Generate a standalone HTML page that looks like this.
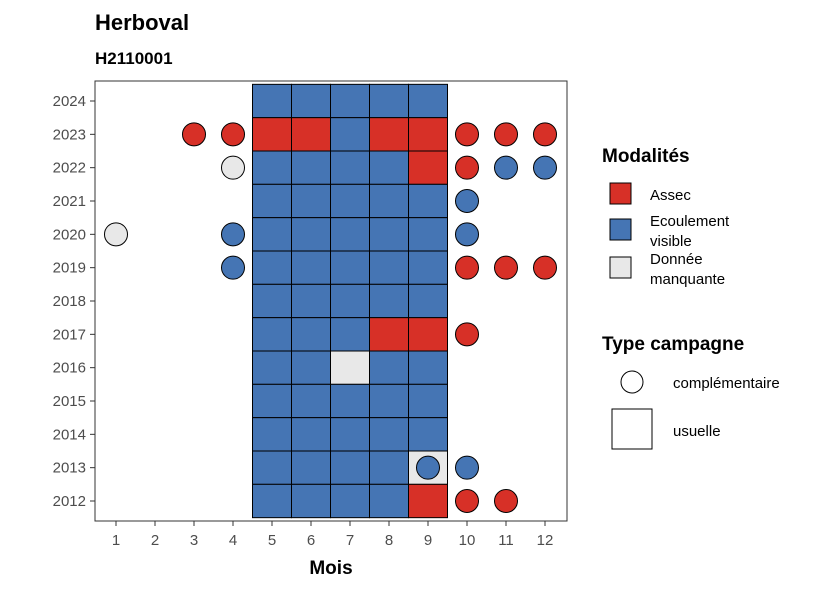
<!DOCTYPE html>
<html><head><meta charset="utf-8"><style>
body{margin:0;background:#fff;width:826px;height:590px;overflow:hidden}
text{font-family:"Liberation Sans",sans-serif}
</style></head><body>
<svg id="chart" width="826" height="590" xmlns="http://www.w3.org/2000/svg">
<text x="95" y="30" font-size="22" font-weight="bold" fill="#000">Herboval</text>
<text x="95" y="64" font-size="17" font-weight="bold" fill="#000">H2110001</text>
<rect x="95" y="81" width="472" height="440" fill="#fff" stroke="#333" stroke-width="1"/>
<g id="tiles"></g><g id="circles"></g><g id="axes"></g>
<text x="331" y="574" font-size="19" font-weight="bold" text-anchor="middle">Mois</text>
<g>
<text x="602" y="162" font-size="19" font-weight="bold">Modalités</text>
<rect x="610" y="183" width="21" height="21" fill="#d73027" stroke="#000"/>
<text x="650" y="200" font-size="15">Assec</text>
<rect x="610" y="219" width="21" height="21" fill="#4575b4" stroke="#000"/>
<text x="650" y="226" font-size="15">Ecoulement</text>
<text x="650" y="246" font-size="15">visible</text>
<rect x="610" y="257" width="21" height="21" fill="#e8e8e8" stroke="#000"/>
<text x="650" y="264" font-size="15">Donnée</text>
<text x="650" y="284" font-size="15">manquante</text>
<text x="602" y="350" font-size="19" font-weight="bold">Type campagne</text>
<circle cx="632" cy="382" r="11" fill="#fff" stroke="#000"/>
<text x="673" y="388" font-size="15">complémentaire</text>
<rect x="612" y="409" width="40" height="40" fill="#fff" stroke="#000"/>
<text x="673" y="436" font-size="15">usuelle</text>
</g>
</svg>
<script>
const months=[1,2,3,4,5,6,7,8,9,10,11,12];
const years=[2012,2013,2014,2015,2016,2017,2018,2019,2020,2021,2022,2023,2024];
const colors={A:"#d73027",E:"#4575b4",M:"#e8e8e8"};
// usual campaigns (tiles): [year, month, modality]
const tileYears=[2024,2024,2024,2024,2024,2023,2023,2023,2023,2023,2022,2022,2022,2022,2022,2021,2021,2021,2021,2021,2020,2020,2020,2020,2020,2019,2019,2019,2019,2019,2018,2018,2018,2018,2018,2017,2017,2017,2017,2017,2016,2016,2016,2016,2016,2015,2015,2015,2015,2015,2014,2014,2014,2014,2014,2013,2013,2013,2013,2013,2012,2012,2012,2012,2012];
const tileMonths=[5,6,7,8,9,5,6,7,8,9,5,6,7,8,9,5,6,7,8,9,5,6,7,8,9,5,6,7,8,9,5,6,7,8,9,5,6,7,8,9,5,6,7,8,9,5,6,7,8,9,5,6,7,8,9,5,6,7,8,9,5,6,7,8,9];
const tileValues=["E","E","E","E","E","A","A","E","A","A","E","E","E","E","A","E","E","E","E","E","E","E","E","E","E","E","E","E","E","E","E","E","E","E","E","E","E","E","A","A","E","E","M","E","E","E","E","E","E","E","E","E","E","E","E","E","E","E","E","M","E","E","E","E","A"];
// complementary campaigns (circles)
const circleYears=[2023,2023,2023,2023,2023,2022,2022,2022,2022,2021,2020,2020,2020,2019,2019,2019,2019,2017,2013,2013,2012,2012];
const circleMonths=[3,4,10,11,12,4,10,11,12,10,1,4,10,4,10,11,12,10,9,10,10,11];
const circleValues=["A","A","A","A","A","M","A","E","E","E","M","E","E","E","A","A","A","A","E","E","A","A"];

const NS="http://www.w3.org/2000/svg";
const xS=m=>116+(m-1)*39;
const yS=y=>501-(y-2012)*(400/12);
const bw=39,bh=400/12;
function mk(t,a,p){const e=document.createElementNS(NS,t);for(const k in a)e.setAttribute(k,a[k]);p.appendChild(e);return e;}
const tg=document.getElementById('tiles'),cg=document.getElementById('circles'),ag=document.getElementById('axes');
tileValues.forEach((v,i)=>{
 const r=mk('rect',{x:xS(tileMonths[i])-bw/2,y:yS(tileYears[i])-bh/2,width:bw,height:bh,fill:colors[v],stroke:"#000","stroke-width":1},tg);
 
 
});
circleValues.forEach((v,i)=>{
 const c=mk('circle',{cx:xS(circleMonths[i]),cy:yS(circleYears[i]),r:11.5,fill:colors[v],stroke:"#000","stroke-width":1},cg);
 
 
});
months.forEach(m=>{
 const l=mk('line',{x1:xS(m),x2:xS(m),y1:521,y2:526,stroke:"#333"},ag);
 
 
 const t=mk('text',{x:xS(m),y:545,"font-size":15,"text-anchor":"middle",fill:"#4d4d4d"},ag);
 t.textContent=m;
 
 
});
years.forEach(y=>{
 const l=mk('line',{x1:90,x2:95,y1:yS(y),y2:yS(y),stroke:"#333"},ag);
 
 
 const t=mk('text',{x:86,y:yS(y)+5,"font-size":15,"text-anchor":"end",fill:"#4d4d4d"},ag);
 t.textContent=y;
 
 
});
</script>
</body></html>
